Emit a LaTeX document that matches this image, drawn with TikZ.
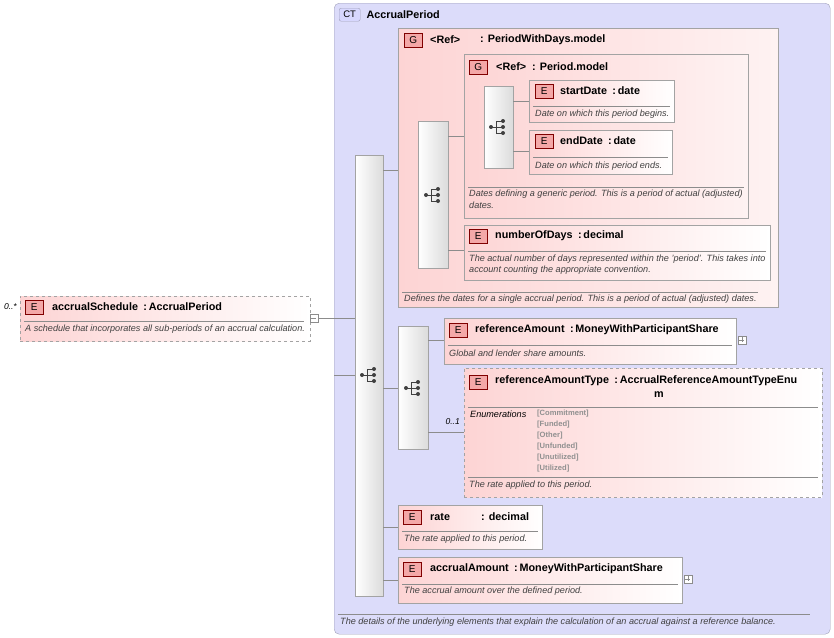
\documentclass[tikz,border=0pt]{standalone}
\usepackage{fontspec}
\setmainfont{Liberation Sans}
\usetikzlibrary{positioning}

\definecolor{ctfill}{HTML}{DCDCFA}
\definecolor{ctline}{HTML}{A0A0B8}
\definecolor{elpink}{HTML}{FDD4D4}
\definecolor{badge}{HTML}{F4A8A8}
\definecolor{edge}{HTML}{8C8C8C}
\definecolor{enumgray}{HTML}{909090}

\tikzset{
  box/.style={draw=edge!80,anchor=north west,inner sep=0pt,left color=elpink,right color=white},
  grpbox/.style={box,right color=elpink!30},
  optbox/.style={box,dashed},
  bar/.style={draw=edge!80,anchor=north west,inner sep=0pt,left color=white,right color=black!14},
  badgebox/.style={draw=red!50!black,fill=badge,anchor=north west,minimum width=18pt,minimum height=14pt,inner sep=0pt,font=\fontsize{10}{11}\selectfont},
  head/.style={anchor=west,inner sep=0pt,font=\bfseries\fontsize{10.8}{12}\selectfont},
  desc/.style={anchor=west,inner sep=0pt,font=\itshape\fontsize{9.1}{10}\selectfont,text=black!75},
  enum/.style={anchor=west,inner sep=0pt,font=\bfseries\fontsize{7.6}{8}\selectfont,text=enumgray},
  mult/.style={anchor=east,inner sep=0pt,font=\itshape\fontsize{8.5}{9}\selectfont},
  link/.style={draw=edge,line width=.5pt},
  sign/.style={draw=edge,fill=white,minimum size=8pt,inner sep=0pt}
}
\newcommand\seqicon[1]{%
  \fill[black!75] (#1) ++(-7,0) circle (2);
  \draw[black!75,line width=.9pt] (#1) ++(-7,0) -- ++(5,0) ++(0,-6) -- ++(0,12)
    ++(0,-12) -- ++(6,0) ++(-6,6) -- ++(6,0) ++(-6,6) -- ++(6,0);
  \fill[black!75] (#1) ++(5,-6) circle (2) ++(0,6) circle (2) ++(0,6) circle (2);}

\begin{document}
\begin{tikzpicture}[x=1pt,y=-1pt]
\useasboundingbox (0,0) rectangle (834,637);

% complex type
\node[draw=ctline,fill=ctfill,rounded corners=5,anchor=north west,minimum width=496,minimum height=631] (ct) at (334,3) {};
\node[draw=ctline,fill=ctfill!70!blue!40,rounded corners=2,anchor=north west,minimum width=21,minimum height=13,inner sep=0pt,font=\fontsize{9.5}{10}\selectfont] (ctbadge) at (339,8) {CT};
\node[head,right=6pt of ctbadge] (ctname) {AccrualPeriod};
\draw[edge] (338,614) -- (810,614);
\node[desc] at (340,622) {The details of the underlying elements that explain the calculation of an accrual against a reference balance.};

% root element
\node[optbox,minimum width=290,minimum height=45] (root) at (20,296) {};
\node[badgebox] (rootE) at (25,300) {E};
\node[head] at (52,307) {accrualSchedule\enspace:\,AccrualPeriod};
\node[mult] at (17,307) {0..*};
\draw[edge] (24,321) -- (304,321);
\node[desc] at (25,329) {A schedule that incorporates all sub-periods of an accrual calculation.};
\node[sign] (rootminus) at (314,318) {};
\draw[edge] (rootminus.west) ++(1.5,0) -- ++(5,0);

% main sequence
\node[bar,minimum width=28,minimum height=441] (seqmain) at (355,155) {};
\seqicon{369,375}
\draw[link] (rootminus.east) -- (seqmain.west |- rootminus);
\draw[link] (ct.west |- 0,375) -- (seqmain.west |- 0,375);

% group PeriodWithDays.model
\node[grpbox,minimum width=380,minimum height=279] (gdays) at (398,28) {};
\node[badgebox] (gdaysG) at (404,33) {G};
\node[head] at (430,40) {<Ref>};
\node[head] at (480,40) {: PeriodWithDays.model};
\draw[edge] (402,292) -- (758,292);
\node[desc] at (404,299) {Defines the dates for a single accrual period. This is a period of actual (adjusted) dates.};

\node[bar,minimum width=30,minimum height=147] (seqdays) at (418,121) {};
\seqicon{433,195}

% group Period.model
\node[grpbox,minimum width=284,minimum height=164] (gper) at (464,54) {};
\node[badgebox] (gperG) at (469,60) {G};
\node[head] at (496,67) {<Ref>};
\node[head] at (532,67) {: Period.model};
\draw[edge] (468,187) -- (744,187);
\node[desc] at (469,194) {Dates defining a generic period. This is a period of actual (adjusted)};
\node[desc] at (469,205) {dates.};

\node[bar,minimum width=29,minimum height=82] (seqper) at (484,86) {};
\seqicon{498,127}

\node[box,minimum width=145,minimum height=42] (start) at (529,80) {};
\node[badgebox] at (535,84) {E};
\node[head] at (560,91) {startDate\enspace:\,date};
\draw[edge] (533,106) -- (670,106);
\node[desc] at (535,114) {Date on which this period begins.};

\node[box,minimum width=143,minimum height=44] (end) at (529,130) {};
\node[badgebox] at (535,134) {E};
\node[head] at (560,141) {endDate\enspace:\,date};
\draw[edge] (533,157) -- (668,157);
\node[desc] at (535,166) {Date on which this period ends.};

\node[box,minimum width=306,minimum height=55] (days) at (464,225) {};
\node[badgebox] at (469,229) {E};
\node[head] at (495,236) {numberOfDays\enspace:\,decimal};
\draw[edge] (468,251) -- (766,251);
\node[desc] at (469,259) {The actual number of days represented within the 'period'. This takes into};
\node[desc] at (469,270) {account counting the appropriate convention.};

% second sequence
\node[bar,minimum width=30,minimum height=123] (seqref) at (398,326) {};
\seqicon{413,388}

\node[box,minimum width=292,minimum height=46] (refamt) at (444,318) {};
\node[badgebox] at (449,323) {E};
\node[head] at (475,330) {referenceAmount\enspace:\,MoneyWithParticipantShare};
\draw[edge] (448,345) -- (732,345);
\node[desc] at (449,353) {Global and lender share amounts.};
\node[sign] (refplus) at (742,340) {};
\draw[edge] (refplus.west) ++(1.5,0) -- ++(5,0) (refplus.north) ++(0,1.5) -- ++(0,5);

\node[optbox,minimum width=358,minimum height=129] (reftype) at (464,368) {};
\node[badgebox] at (469,375) {E};
\node[head] at (495,381) {referenceAmountType\enspace:\,AccrualReferenceAmountTypeEnu};
\node[head] at (654,395) {m};
\draw[edge] (468,407) -- (818,407);
\node[desc,text=black] at (470,414) {Enumerations};
\foreach \v [count=\i from 0] in {Commitment,Funded,Other,Unfunded,Unutilized,Utilized}
  \node[enum] at (537,414+11*\i) {[\v]};
\draw[edge] (468,477) -- (818,477);
\node[desc] at (469,485) {The rate applied to this period.};
\node[mult] at (460,422) {0..1};

\node[box,minimum width=144,minimum height=44] (rate) at (398,505) {};
\node[badgebox] at (403,510) {E};
\node[head] at (430,517) {rate};
\node[head] at (481,517) {: decimal};
\draw[edge] (402,531) -- (538,531);
\node[desc] at (404,539) {The rate applied to this period.};

\node[box,minimum width=284,minimum height=46] (accamt) at (398,557) {};
\node[badgebox] at (403,562) {E};
\node[head] at (430,569) {accrualAmount\enspace:\,MoneyWithParticipantShare};
\draw[edge] (402,584) -- (678,584);
\node[desc] at (404,591) {The accrual amount over the defined period.};
\node[sign] (accplus) at (688,579) {};
\draw[edge] (accplus.west) ++(1.5,0) -- ++(5,0) (accplus.north) ++(0,1.5) -- ++(0,5);

% connectors
\draw[link] (seqmain.east |- 0,170) -- (gdays.west |- 0,170);
\draw[link] (seqmain.east |- 0,388) -- (seqref.west |- 0,388);
\draw[link] (seqmain.east |- 0,527) -- (rate.west |- 0,527);
\draw[link] (seqmain.east |- 0,580) -- (accamt.west |- 0,580);
\draw[link] (seqdays.east |- 0,136) -- (gper.west |- 0,136);
\draw[link] (seqdays.east |- 0,250) -- (days.west |- 0,250);
\draw[link] (seqper.east |- 0,101) -- (start.west |- 0,101);
\draw[link] (seqper.east |- 0,151) -- (end.west |- 0,151);
\draw[link] (seqref.east |- 0,340) -- (refamt.west |- 0,340);
\draw[link] (seqref.east |- 0,432) -- (reftype.west |- 0,432);
\end{tikzpicture}
\end{document}
